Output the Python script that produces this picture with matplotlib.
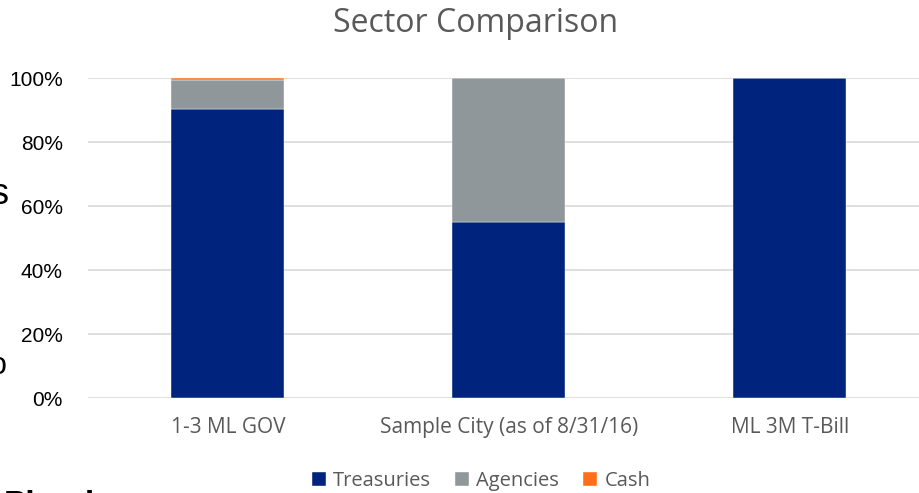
import matplotlib.pyplot as plt
import numpy as np

# sector weights per portfolio (fraction of total)
portfolios = ['1-3 ML GOV', 'Sample City (as of 8/31/16)', 'ML 3M T-Bill']
treasuries = [0.903, 0.55, 1.00]
agencies = [0.091, 0.45, 0.00]
cash = [0.006, 0.00, 0.00]

series = ['Treasuries', 'Agencies', 'Cash']
colors = ['#00247D', '#8F979A', '#FF6E1A']
yticks = [0, 0.2, 0.4, 0.6, 0.8, 1.0]
ytick_labels = ['0%', '20%', '40%', '60%', '80%', '100%']

fig = plt.figure(figsize=(9.2, 4.93), dpi=100)
ax = fig.add_axes([88/920, 95/493, 832/920, 320/493])

x = np.arange(len(portfolios))
bottom = np.zeros(len(portfolios))
for name, vals, c in zip(series, [treasuries, agencies, cash], colors):
    ax.bar(x, vals, 0.402, bottom=bottom, color=c, label=name,
           edgecolor='white', linewidth=0.3, zorder=3)
    bottom += np.array(vals)

ax.set_xlim(-0.498, 2.463)
ax.set_ylim(0, 1.0)
ax.set_yticks(yticks)
ax.set_yticklabels(ytick_labels, fontsize=15, family='Liberation Sans', color='#000000')
ax.set_xticks(x)
ax.set_xticklabels(portfolios, fontsize=15, family='Open Sans', color='#595959')
ax.tick_params(length=0)
ax.tick_params(axis='x', pad=14)
ax.tick_params(axis='y', pad=18)
ax.yaxis.grid(True, color='#D9D9D9', linewidth=1.2, zorder=0)
for s in ax.spines.values():
    s.set_visible(False)

fig.text(476/920, 1 - 24/493, 'Sector Comparison', ha='center', va='center',
         fontsize=23, family='Open Sans', color='#595959')

handles, labels = ax.get_legend_handles_labels()
fig.legend(handles, labels, loc='center', bbox_to_anchor=(481/920, 1 - 481/493),
           ncol=3, frameon=False, prop={'family': 'Open Sans', 'size': 14.5},
           labelcolor='#595959', handlelength=0.7, handleheight=0.7,
           handletextpad=0.35, columnspacing=1.2)

# fragments of surrounding slide text at the left edge
fig.text(-9/920, 1 - 195/493, 's', ha='left', va='center', fontsize=26,
         family='Liberation Sans', color='#000000')
fig.text(-10/920, 1 - 366/493, 'o', ha='left', va='center', fontsize=22,
         family='Liberation Sans', color='#000000')
fig.text(4/920, 1 - 506/493, 'Pland', ha='left', va='center', fontsize=24,
         family='Liberation Sans', weight='bold', color='#000000')

fig.savefig('out.png', dpi=100)
